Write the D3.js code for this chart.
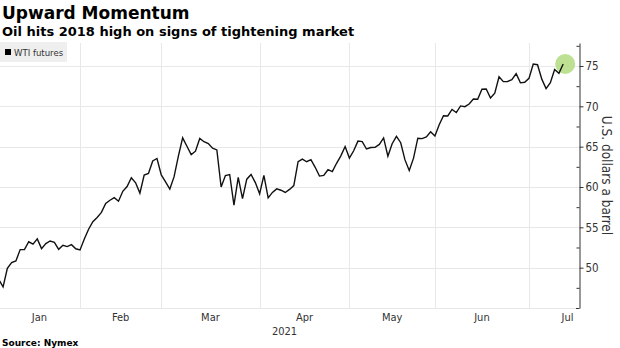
<!DOCTYPE html>
<html>
<head>
<meta charset="utf-8">
<script src="https://cdn.jsdelivr.net/npm/d3@7"></script>
<style>
  html, body { margin: 0; padding: 0; background: #fff; }
  svg { display: block; }
</style>
</head>
<body>
<svg id="chart" width="620" height="348"></svg>
<script>
// ---- data (WTI futures settlements, trading-day sequence) ----
const seriesName = "WTI futures";
const wtiValues = [
  48.52, 47.62, 49.93, 50.63, 50.83, 52.24, 52.25, 53.21, 52.91, 53.57,
  52.36, 52.98, 53.31, 53.13, 52.27, 52.77, 52.61, 52.85, 52.34, 52.20,
  53.55, 54.76, 55.69, 56.23, 56.85, 57.97, 58.36, 58.68, 58.24, 59.47,
  60.05, 61.14, 60.52, 59.24, 61.49, 61.67, 63.22, 63.53, 61.50, 60.64,
  59.75, 61.28, 63.83, 66.09, 65.05, 64.01, 64.44, 66.02, 65.61, 65.39,
  64.80, 64.60, 60.00, 61.42, 61.55, 57.76, 61.18, 58.56, 60.97, 61.56,
  60.55, 59.16, 61.45, 58.65, 59.33, 59.77, 59.60, 59.32, 59.70, 60.18,
  63.15, 63.46, 63.13, 63.38, 62.44, 61.35, 61.43, 62.14, 61.91, 62.94,
  63.86, 65.01, 63.58, 64.49, 65.69, 65.63, 64.71, 64.90, 64.92, 65.28,
  66.08, 63.82, 65.37, 66.27, 65.49, 63.36, 62.05, 63.58, 66.05, 66.00,
  66.21, 66.85, 66.32, 67.72, 68.83, 68.81, 69.62, 69.23, 70.05, 69.96,
  70.29, 70.91, 70.88, 72.12, 72.15, 71.04, 71.64, 73.66, 73.06, 73.08,
  73.30, 74.05, 72.91, 72.98, 73.47, 75.23, 75.16, 73.37, 72.20, 72.94,
  74.56, 74.10, 75.25
];
const monthNames = ["Jan", "Feb", "Mar", "Apr", "May", "Jun", "Jul"];
// trading-day index of each month boundary (last session of previous month)
const monthBounds = [0, 19, 38, 61, 82, 102, 124, 142];
const yearLabel = "2021";
const yMajorTicks = [50, 55, 60, 65, 70, 75];
const yMinorTicks = [47.5, 52.5, 57.5, 62.5, 67.5, 72.5, 77.5];
const titleText = "Upward Momentum";
const subtitleText = "Oil hits 2018 high on signs of tightening market";
const axisTitle = "U.S. dollars a barrel";
const sourceText = "Source: Nymex";

// ---- layout ----
const plot = { left: 0, right: 579, top: 43, bottom: 308 };
const svg = d3.select("#chart");
const condensed = "'DejaVu Sans Condensed', 'DejaVu Sans', sans-serif";
const bold = "'DejaVu Sans', Verdana, sans-serif";

const x = d3.scaleLinear().domain([0, 135.7]).range([-1.2, plot.right]);
const y = d3.scaleLinear().domain([45, 77.85]).range([plot.bottom, plot.top]);

// titles
svg.append("text").attr("x", 2).attr("y", 19)
  .attr("font-family", bold).attr("font-weight", "bold").attr("font-size", 17)
  .attr("fill", "#000").text(titleText);
svg.append("text").attr("x", 2).attr("y", 36)
  .attr("font-family", bold).attr("font-weight", "bold").attr("font-size", 13)
  .attr("fill", "#000").text(subtitleText);

// gridlines
const grid = svg.append("g").attr("stroke", "#e8e8e8").attr("stroke-width", 1);
grid.selectAll("line.h").data([45].concat(yMajorTicks)).join("line")
  .attr("x1", plot.left).attr("x2", plot.right)
  .attr("y1", d => Math.round(y(d)) + 0.5).attr("y2", d => Math.round(y(d)) + 0.5);
grid.selectAll("line.v").data(monthBounds.slice(1, -1)).join("line")
  .attr("x1", d => Math.round(x(d)) + 0.5).attr("x2", d => Math.round(x(d)) + 0.5)
  .attr("y1", plot.top).attr("y2", plot.bottom);

// legend
const lg = svg.append("g");
lg.append("rect").attr("x", 0).attr("y", 42).attr("width", 67).attr("height", 20).attr("fill", "#efefef");
lg.append("rect").attr("x", 5).attr("y", 49).attr("width", 6).attr("height", 6).attr("fill", "#000");
lg.append("text").attr("x", 14).attr("y", 55.5)
  .attr("font-family", condensed).attr("font-size", 9.5).attr("fill", "#333").text(seriesName);

// highlight circle at the latest point
const lastIdx = wtiValues.length - 1;
svg.append("circle")
  .attr("cx", x(lastIdx) + 2).attr("cy", y(wtiValues[lastIdx]))
  .attr("r", 10).attr("fill", "#b6dd86").attr("opacity", 0.9);

// line
svg.append("clipPath").attr("id", "clip").append("rect")
  .attr("x", plot.left).attr("y", plot.top).attr("width", plot.right - plot.left).attr("height", plot.bottom - plot.top);
const line = d3.line().x((d, i) => x(i)).y(d => y(d));
svg.append("path").datum(wtiValues)
  .attr("clip-path", "url(#clip)")
  .attr("d", line).attr("fill", "none").attr("stroke", "#111")
  .attr("stroke-width", 1.4).attr("stroke-linejoin", "miter");

// right axis
const yAxis = svg.append("g").attr("transform", `translate(${plot.right + 0.5},0)`)
  .call(d3.axisRight(y).tickValues(yMajorTicks).tickSize(4).tickPadding(2).tickSizeOuter(0));
yAxis.select(".domain").attr("stroke", "#333");
yAxis.selectAll(".tick line").attr("stroke", "#333");
yAxis.selectAll(".tick text").attr("font-family", condensed).attr("font-size", 11.5).attr("fill", "#333");
const yMinor = svg.append("g").attr("transform", `translate(${plot.right + 0.5},0)`)
  .call(d3.axisLeft(y).tickValues(yMinorTicks).tickSize(3).tickFormat("").tickSizeOuter(0));
yMinor.select(".domain").remove();
yMinor.selectAll(".tick line").attr("stroke", "#333");
// bottom end tick
svg.append("line").attr("x1", plot.right - 3).attr("x2", plot.right + 0.5)
  .attr("y1", plot.bottom + 0.5).attr("y2", plot.bottom + 0.5).attr("stroke", "#333");

svg.append("text")
  .attr("transform", `translate(602, ${(plot.top + plot.bottom) / 2}) rotate(90)`)
  .attr("text-anchor", "middle")
  .attr("font-family", condensed).attr("font-size", 13.5).attr("fill", "#333").text(axisTitle);

// month labels
const months = monthNames.map((m, i) => ({ name: m, mid: (monthBounds[i] + monthBounds[i + 1]) / 2 }));
svg.append("g").selectAll("text").data(months).join("text")
  .attr("x", d => x(d.mid)).attr("y", 321).attr("text-anchor", "middle")
  .attr("font-family", condensed).attr("font-size", 11).attr("fill", "#333").text(d => d.name);
svg.append("text").attr("x", x((monthBounds[3] + monthBounds[4]) / 2) - 20).attr("y", 335)
  .attr("text-anchor", "middle")
  .attr("font-family", condensed).attr("font-size", 11).attr("fill", "#333").text(yearLabel);

// source
svg.append("text").attr("x", 2).attr("y", 346)
  .attr("font-family", bold).attr("font-weight", "bold").attr("font-size", 9)
  .attr("fill", "#000").text(sourceText);
</script>
</body>
</html>
